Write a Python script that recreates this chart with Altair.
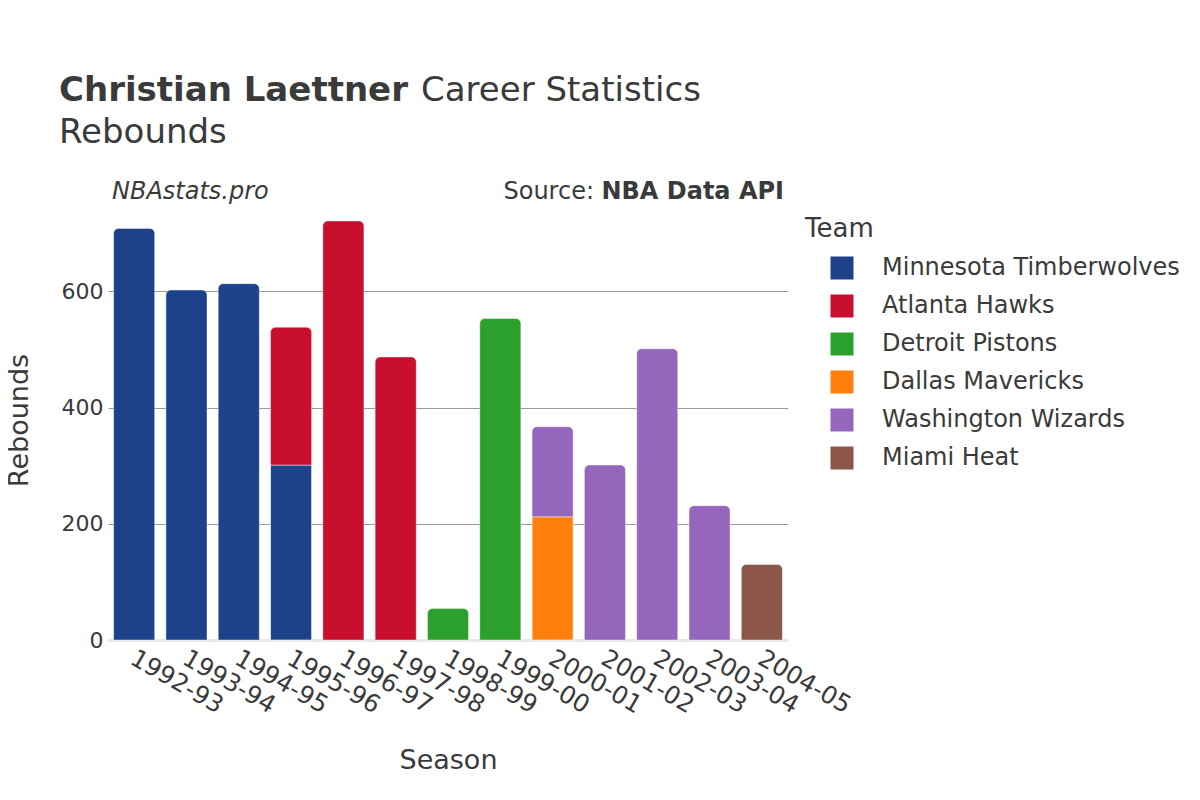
import altair as alt
import pandas as pd

seasons = ["1992-93", "1993-94", "1994-95", "1995-96", "1996-97", "1997-98", "1998-99",
           "1999-00", "2000-01", "2001-02", "2002-03", "2003-04", "2004-05"]
teams = ["Minnesota Timberwolves", "Atlanta Hawks", "Detroit Pistons", "Dallas Mavericks",
         "Washington Wizards", "Miami Heat"]
colors = ["#1d428a", "#c8102e", "#2ca02c", "#ff7f0e", "#9467bd", "#8c564b"]

rec_season = ["1992-93", "1993-94", "1994-95", "1995-96", "1995-96", "1996-97", "1997-98",
              "1998-99", "1999-00", "2000-01", "2000-01", "2001-02", "2002-03", "2003-04", "2004-05"]
rec_team = ["Minnesota Timberwolves", "Minnesota Timberwolves", "Minnesota Timberwolves",
            "Minnesota Timberwolves", "Atlanta Hawks", "Atlanta Hawks", "Atlanta Hawks",
            "Detroit Pistons", "Detroit Pistons", "Dallas Mavericks", "Washington Wizards",
            "Washington Wizards", "Washington Wizards", "Washington Wizards", "Miami Heat"]
rec_reb = [708, 602, 613, 301, 237, 721, 487, 54, 553, 212, 155, 301, 501, 231, 130]

df = pd.DataFrame({
    "Season": rec_season,
    "Team": rec_team,
    "Rebounds": rec_reb,
    "ord": [teams.index(t) for t in rec_team],
})

FONT = "DejaVu Sans"
TXT = "#3a3a3a"

base = (
    alt.Chart(df)
    .transform_stack(stack="Rebounds", groupby=["Season"], sort=[alt.SortField("ord")], as_=["y0", "y1"])
    .transform_joinaggregate(top="max(y1)", groupby=["Season"])
)

x_enc = alt.X("Season:N", sort=seasons,
              scale=alt.Scale(domain=seasons, paddingInner=0.215, paddingOuter=0.1075),
              axis=alt.Axis(title="Season", labelAngle=30, labelAlign="left", labelBaseline="top",
                            labelFontSize=24.5, labelColor=TXT, labelPadding=6, labelOffset=4,
                            ticks=False, domain=False,
                            titleFontSize=27, titleFontWeight="normal", titleColor=TXT,
                            titleY=120, titleBaseline="middle"))
y_enc = alt.Y("y1:Q", scale=alt.Scale(domain=[0, 757], nice=False),
              axis=alt.Axis(title="Rebounds", values=[0, 200, 400, 600], labelFontSize=22, labelColor=TXT,
                            ticks=False, labelPadding=5, domain=False,
                            gridColor={"condition": {"test": "datum.value === 0", "value": "#e8e8e8"}, "value": "#999999"},
                            gridWidth={"condition": {"test": "datum.value === 0", "value": 3}, "value": 1},
                            titleFontSize=27, titleFontWeight="normal", titleColor=TXT,
                            titleX=-89, titleY=220, titleAngle=-90, titleBaseline="middle"))
color_enc = alt.Color("Team:N", scale=alt.Scale(domain=teams, range=colors),
                      legend=alt.Legend(title="Team", orient="none", legendX=697, legendY=16,
                                        titleFontSize=26, titleFontWeight="normal", titleColor=TXT,
                                        labelFontSize=24, labelColor=TXT, labelLimit=0, symbolType="square",
                                        symbolSize=529, symbolStrokeWidth=0, symbolOpacity=1,
                                        symbolOffset=25, labelOffset=28, rowPadding=14, titlePadding=14))

bars_top = base.transform_filter("datum.y1 === datum.top").mark_bar(
    cornerRadiusTopLeft=5, cornerRadiusTopRight=5, stroke="white", strokeWidth=1, strokeOpacity=0.4
).encode(x=x_enc, y=y_enc, y2="y0:Q", color=color_enc)

bars_low = base.transform_filter("datum.y1 !== datum.top").mark_bar(
    stroke="white", strokeWidth=1, strokeOpacity=0.6
).encode(x=x_enc, y=y_enc, y2="y0:Q", color=color_enc)

ann = pd.DataFrame({"k": [0]})

def label(text, x, y, size, weight="normal", style="normal", align="left"):
    return alt.Chart(ann).mark_text(
        text=text, font=FONT, fontSize=size, fontWeight=weight, fontStyle=style,
        align=align, baseline="alphabetic", color=TXT
    ).encode(x=alt.value(x), y=alt.value(y))

texts = [
    label("Christian Laettner", -49, -99, 34, weight="bold"),
    label("Career Statistics", 313, -99, 34),
    label("Rebounds", -49, -57, 34),
    label("NBAstats.pro", 4, -1, 24, style="italic"),
    label("NBA Data API", 676, -1, 24, weight="bold", align="right"),
    label("Source:", 486, -1, 24, align="right"),
]

chart = alt.layer(bars_low, bars_top, *texts).properties(
    width=680, height=440,
    autosize=alt.AutoSizeParams(type="none"),
    padding={"left": 100, "top": 192, "right": 400, "bottom": 150},
).configure(font=FONT).configure_view(stroke=None)

chart.save("out.html", embed_options={"renderer": "svg", "actions": False})
